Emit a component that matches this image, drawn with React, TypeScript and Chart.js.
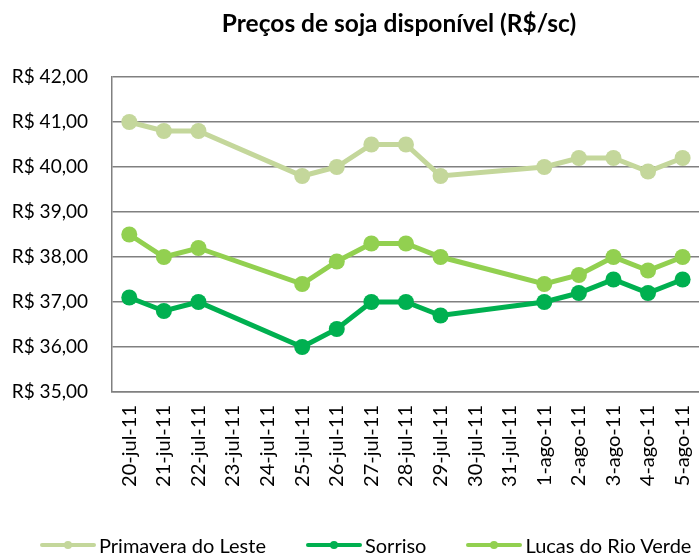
import React, { useEffect, useRef } from "react";
import { Chart, registerables } from "chart.js";

Chart.register(...registerables);

const title = "Preços de soja disponível (R$/sc)";
const categories = [
  "20-jul-11", "21-jul-11", "22-jul-11", "23-jul-11", "24-jul-11", "25-jul-11",
  "26-jul-11", "27-jul-11", "28-jul-11", "29-jul-11", "30-jul-11", "31-jul-11",
  "1-ago-11", "2-ago-11", "3-ago-11", "4-ago-11", "5-ago-11",
];
const primavera = [41.0, 40.8, 40.8, null, null, 39.8, 40.0, 40.5, 40.5, 39.8, null, null, 40.0, 40.2, 40.2, 39.9, 40.2];
const sorriso = [37.1, 36.8, 37.0, null, null, 36.0, 36.4, 37.0, 37.0, 36.7, null, null, 37.0, 37.2, 37.5, 37.2, 37.5];
const lucas = [38.5, 38.0, 38.2, null, null, 37.4, 37.9, 38.3, 38.3, 38.0, null, null, 37.4, 37.6, 38.0, 37.7, 38.0];
const seriesNames = ["Primavera do Leste", "Sorriso", "Lucas do Rio Verde"];
const seriesColors = ["#C4D79B", "#00B050", "#92D050"];
const yMin = 35;
const yMax = 42;
const yStep = 1;

const FONT = "Lato, 'Open Sans', sans-serif";

export default function App() {
  const ref = useRef<HTMLCanvasElement | null>(null);

  useEffect(() => {
    if (!ref.current) return;
    const series = [primavera, sorriso, lucas];
    const chart = new Chart(ref.current, {
      type: "line",
      data: {
        labels: categories,
        datasets: series.map((d, i) => ({
          label: seriesNames[i],
          data: d,
          borderColor: seriesColors[i],
          backgroundColor: seriesColors[i],
          pointBackgroundColor: seriesColors[i],
          pointBorderColor: seriesColors[i],
          pointBorderWidth: 0,
          pointRadius: 8,
          borderWidth: 5,
          spanGaps: true,
          tension: 0,
          order: 3 - i,
        })),
      },
      options: {
        animation: false,
        responsive: false,
        layout: { padding: { top: 77, right: 13, left: 0, bottom: 0 } },
        plugins: {
          legend: { display: false },
          title: { display: false },
          tooltip: { enabled: false },
        },
        scales: {
          x: {
            offset: true,
            grid: { display: false, drawTicks: false },
            border: { display: true, color: "#808080", width: 1.5 },
            ticks: {
              color: "#000",
              font: { family: FONT, size: 20 },
              minRotation: 90,
              maxRotation: 90,
              padding: 13,
              autoSkip: false,
            },
            afterFit: (s: any) => {
              s.height = 163;
            },
          },
          y: {
            min: yMin,
            max: yMax,
            grid: { color: "#808080", lineWidth: 1.5, drawTicks: false },
            border: { display: true, color: "#808080", width: 1.5 },
            ticks: {
              stepSize: yStep,
              color: "#000",
              padding: 24,
              font: { family: FONT, size: 19 },
              callback: (v: any) => "R$ " + Number(v).toFixed(2).replace(".", ","),
            },
            afterFit: (s: any) => {
              s.width = 112;
            },
          },
        },
      },
    });
    return () => chart.destroy();
  }, []);

  return (
    <div>
      <canvas
        ref={ref}
        width={720}
        height={555}
        style={{ position: "fixed", left: 0, top: 0, width: 720, height: 555 }}
      />
      <div
        style={{
          position: "fixed",
          left: 0,
          top: 8,
          width: 798,
          textAlign: "center",
          fontFamily: FONT,
          fontWeight: "bold",
          fontSize: 24.5,
          color: "#000",
          lineHeight: "30px",
          whiteSpace: "nowrap",
        }}
      >
        {title}
      </div>
      <div
        style={{
          position: "fixed",
          left: 40,
          top: 532,
          display: "flex",
          alignItems: "center",
          gap: 40,
          fontFamily: FONT,
          fontSize: 20,
          color: "#000",
          lineHeight: "26px",
          whiteSpace: "nowrap",
        }}
      >
        {seriesNames.map((n, i) => (
          <div key={n} style={{ display: "flex", alignItems: "center" }}>
            <div style={{ position: "relative", width: 56, height: 10, marginRight: 3 }}>
              <div
                style={{
                  position: "absolute",
                  left: 0,
                  top: 3,
                  width: 56,
                  height: 4,
                  background: seriesColors[i],
                  borderRadius: 2,
                }}
              />
              <div
                style={{
                  position: "absolute",
                  left: 24,
                  top: 1,
                  width: 8,
                  height: 8,
                  background: seriesColors[i],
                  borderRadius: 4,
                }}
              />
            </div>
            <span>{n}</span>
          </div>
        ))}
      </div>
    </div>
  );
}
